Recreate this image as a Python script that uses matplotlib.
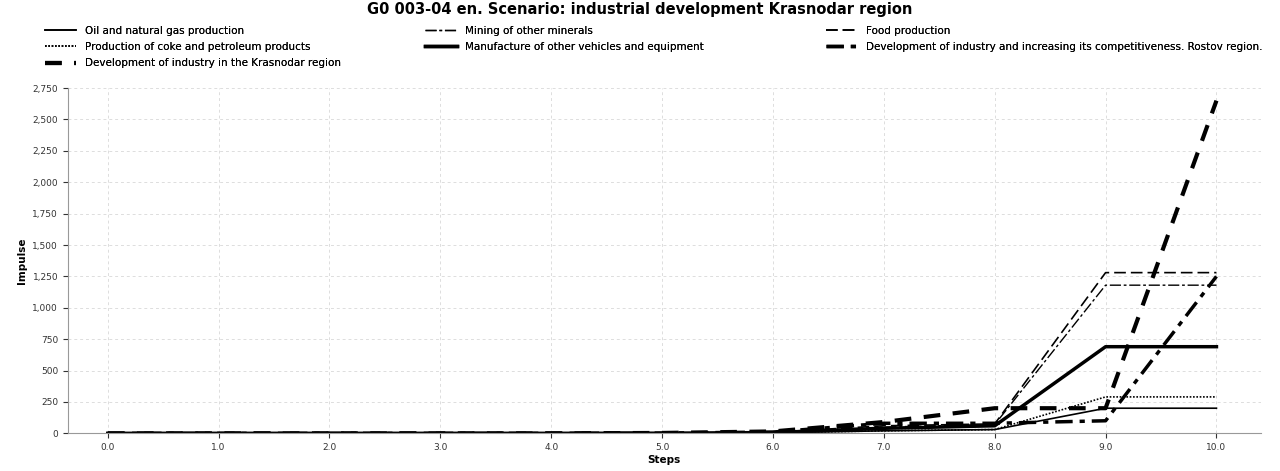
import matplotlib
matplotlib.use("Agg")
from matplotlib import pyplot as plt

steps = [0, 1, 2, 3, 4, 5, 6, 7, 8, 9, 10]
oil = [0, 0, 0, 0, 0, 1, 4, 20, 30, 200, 200]
mining = [0, 0, 0, 0, 0, 2, 8, 50, 70, 1180, 1180]
food = [0, 0, 0, 0, 0, 2, 8, 60, 75, 1280, 1280]
coke = [0, 0, 0, 0, 0, 1, 4, 20, 30, 290, 290]
manuf = [0, 0, 0, 0, 0, 1, 6, 40, 60, 690, 690]
rostov = [0, 0, 0, 0, 0, 2, 10, 80, 80, 100, 1250]
krasnodar = [0, 0, 0, 0, 0, 3, 15, 90, 200, 200, 2650]

names = ['Oil and natural gas production', 'Mining of other minerals', 'Food production',
         'Production of coke and petroleum products', 'Manufacture of other vehicles and equipment',
         'Development of industry and increasing its competitiveness. Rostov region.',
         'Development of industry in the Krasnodar region']
series = [oil, mining, food, coke, manuf, rostov, krasnodar]
styles = [dict(ls='-', lw=1.2), dict(ls=(0, (8, 2, 2, 2)), lw=1.0), dict(ls=(0, (7, 3)), lw=1.2),
          dict(ls=(0, (1, 1)), lw=1.2), dict(ls='-', lw=2.5), dict(ls=(0, (5, 2, 1.5, 2)), lw=2.5),
          dict(ls=(0, (4, 3)), lw=3.0)]

fig = plt.figure(figsize=(12.8, 4.71), dpi=100)
ax = fig.add_axes([0.053, 0.08, 0.932, 0.733])
lines = []
for y, n, s in zip(series, names, styles):
    lines += ax.plot(steps, y, color='black', label=n, **s)

ax.set_xlim(-0.36, 10.4)
ax.set_ylim(0, 2750)
ax.set_xticks(steps)
ax.set_xticklabels([f'{s:.1f}' for s in steps])
ax.set_yticks(range(0, 2751, 250))
ax.set_yticklabels([f'{v:,}' for v in range(0, 2751, 250)])
ax.tick_params(labelsize=6.5, colors='#333333')
ax.grid(True, ls=(0, (3, 3)), color='#dddddd', lw=0.7)
for sp in ['top', 'right']:
    ax.spines[sp].set_visible(False)
ax.spines['left'].set_color('#999999')
ax.spines['bottom'].set_color('#999999')
ax.set_xlabel('Steps', fontsize=7.5, fontweight='bold', labelpad=2)
ax.set_ylabel('Impulse', fontsize=7.5, fontweight='bold')
fig.suptitle('G0 003-04 en. Scenario: industrial development Krasnodar region',
             fontsize=10.5, fontweight='bold', y=0.995)

# legend is laid out row by row, three entries per row
for col, x0 in enumerate([0.028, 0.325, 0.638]):
    idx = list(range(col, len(lines), 3))
    leg = fig.legend([lines[i] for i in idx], [names[i] for i in idx],
                     loc='upper left', bbox_to_anchor=(x0, 0.965), frameon=False,
                     fontsize=7.5, handlelength=3, labelspacing=0.6)
    fig.add_artist(leg)
fig.savefig('out.png', dpi=100)
